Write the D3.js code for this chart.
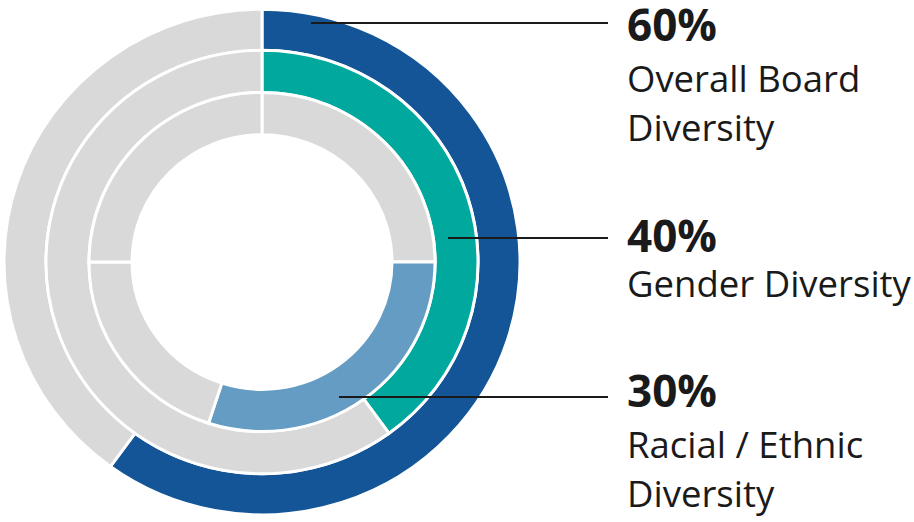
<!DOCTYPE html>
<html>
<head>
<meta charset="utf-8">
<script src="https://cdn.jsdelivr.net/npm/d3@7"></script>
<style>
  body { margin: 0; background: #fff; }
  svg { display: block; }
  text { font-family: "Open Sans", sans-serif; fill: #1a1a1a; }
</style>
</head>
<body>
<div id="mainContainer"><svg></svg></div>
<script>
const WIDTH = 914;
const HEIGHT = 522;

// ring data, outer -> inner (percent shares, clockwise from 12 o'clock)
const outerValues = [60, 40];
const middleValues = [40, 60];
const innerValues = [25, 30, 20, 25];

const highlightIndex = [0, 0, 1];
const ringColors = ["#135597", "#00a89d", "#659cc3"];
const GREY = "#d9d9d9";

// labels
const labelPercents = ["60%", "40%", "30%"];
const labelLines = [
  ["Overall Board", "Diversity"],
  ["Gender Diversity"],
  ["Racial / Ethnic", "Diversity"]
];

const CX = 262, CY = 262;
const Y_SQUASH = 0.98; // the original donut is a touch flatter than round
const ringRadii = [[216, 258], [173, 216], [130, 173]];

let svg = d3.select("#mainContainer").select("svg")
  .attr("width", WIDTH)
  .attr("height", HEIGHT);

let g = svg.append("g").attr("transform", `translate(${CX},${CY}) scale(1,${Y_SQUASH})`);

let pie = d3.pie().sort(null).value(d => d);

[outerValues, middleValues, innerValues].forEach((vals, ring) => {
  let arc = d3.arc()
    .innerRadius(ringRadii[ring][0])
    .outerRadius(ringRadii[ring][1]);
  g.selectAll(`path.ring${ring}`)
    .data(pie(vals))
    .enter()
    .append("path")
    .attr("class", `ring${ring}`)
    .attr("d", arc)
    .attr("fill", (d, i) => i === highlightIndex[ring] ? ringColors[ring] : GREY)
    .attr("stroke", "#fff")
    .attr("stroke-width", 3);
});

// leader lines + labels
const lineY = [23, 238, 397];
const lineX0 = [311, 448, 339];
const LINE_X1 = 608;
const TEXT_X = 627;
const pctBaseline = [41, 252, 407];
const firstLineOffset = [51, 45, 51];
const LINE_GAP = 49;

lineY.forEach((y, i) => {
  svg.append("line")
    .attr("x1", lineX0[i]).attr("x2", LINE_X1)
    .attr("y1", y).attr("y2", y)
    .attr("stroke", "#1a1a1a")
    .attr("stroke-width", 2);

  svg.append("text")
    .attr("x", TEXT_X)
    .attr("y", pctBaseline[i])
    .attr("font-size", 44)
    .attr("font-weight", 700)
    .text(labelPercents[i]);

  labelLines[i].forEach((t, j) => {
    svg.append("text")
      .attr("x", TEXT_X)
      .attr("y", pctBaseline[i] + firstLineOffset[i] + j * LINE_GAP)
      .attr("font-size", 36.5)
      .text(t);
  });
});
</script>
</body>
</html>
